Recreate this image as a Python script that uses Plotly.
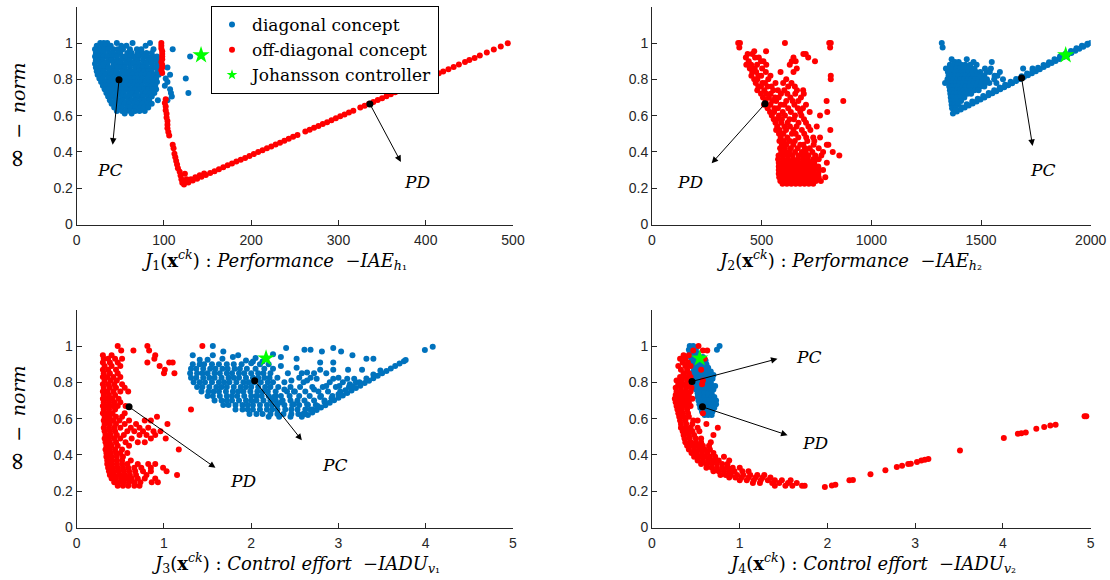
import plotly.graph_objects as go
from plotly.subplots import make_subplots

BLUE = "#0072BD"
RED = "#FF0000"
GREEN = "#00FF00"
TXT = "#262626"

# ---------------- data ----------------
# Panel 1: J1 (IAE_h1) vs infinity-norm.  rows: (norm, [J1 values])
j1_diag_rows = [
    (1.00, [27, 31, 35, 46, 64, 84]),
    (0.985, [23, 29, 33, 39, 51, 57, 79]),
    (0.965, [21, 26, 32, 36, 42, 47, 53, 61, 69, 74, 88, 110]),
    (0.945, [22, 27, 31, 37, 41, 47, 50, 58, 63, 70, 75, 80, 86]),
    (0.925, [21, 25, 31, 35, 41, 46, 52, 56, 62, 66, 71, 77, 81, 87, 92, 130]),
    (0.905, [22, 26, 30, 36, 40, 46, 51, 57, 61, 67, 70, 76, 82, 86, 91, 95]),
    (0.885, [21, 27, 31, 35, 42, 46, 50, 56, 62, 65, 71, 77, 80, 86, 92]),
    (0.865, [22, 26, 32, 36, 41, 47, 51, 55, 61, 67, 72, 76, 81, 87, 90, 96, 104]),
    (0.845, [23, 27, 31, 37, 42, 46, 52, 57, 61, 66, 72, 77, 82, 86, 93]),
    (0.825, [24, 29, 33, 39, 45, 49, 54, 58, 64, 70, 74, 79, 83, 89, 94, 107]),
    (0.805, [26, 30, 36, 41, 46, 50, 56, 62, 66, 71, 75, 81, 87, 91, 102, 125]),
    (0.785, [28, 33, 38, 42, 48, 54, 58, 63, 67, 73, 79, 83, 88, 92, 104]),
    (0.765, [30, 35, 39, 45, 51, 55, 60, 66, 70, 75, 81, 86, 90, 101]),
    (0.745, [32, 36, 42, 47, 52, 57, 63, 67, 72, 78, 82, 87, 91, 107]),
    (0.725, [34, 39, 45, 49, 54, 60, 64, 69, 75, 79, 84, 89, 108, 128]),
    (0.705, [36, 41, 46, 52, 56, 61, 67, 71, 76, 82, 86, 109]),
    (0.685, [38, 44, 48, 53, 59, 63, 68, 74, 78, 83, 93, 104]),
    (0.665, [40, 45, 51, 55, 60, 66, 70, 75, 81, 86]),
    (0.645, [43, 47, 52, 58, 62, 67, 73, 77, 82]),
    (0.625, [46, 52, 56, 61, 67, 72, 78]),
    (0.612, [55, 63]),
]
j1_off_x = [97, 97, 97, 98, 98, 98, 98, 97, 98, 98, 97, 98,
            102, 101, 102, 102, 103, 103, 104, 104, 104, 105, 106,
            110, 111, 112, 113, 114, 115, 116, 118, 119, 120, 121, 124, 126, 123, 128,
            128, 133, 138, 143, 148, 153, 158, 163, 168, 173, 178, 183, 188, 193, 198,
            203, 208, 213, 218, 223, 228, 233, 238, 243, 248, 253,
            262, 267, 272, 277, 282, 287, 292, 297, 302, 307, 312, 317,
            325, 330, 335, 340, 345, 350, 355, 360, 365, 370, 375, 380, 385, 390,
            395, 400, 405, 410, 415, 420, 426, 432, 438, 445, 450, 456, 462, 470,
            478, 486, 494, 131, 136, 141, 146]
j1_off_y = [1.0, 0.985, 0.97, 0.955, 0.94, 0.925, 0.91, 0.895, 0.88, 0.865, 0.85, 0.835,
            0.69, 0.67, 0.65, 0.63, 0.61, 0.59, 0.57, 0.55, 0.53, 0.51, 0.49,
            0.44, 0.42, 0.39, 0.37, 0.35, 0.33, 0.31, 0.29, 0.27, 0.25, 0.23, 0.28, 0.25, 0.22, 0.24,
            0.231, 0.242, 0.252, 0.263, 0.273, 0.284, 0.294, 0.305, 0.315, 0.326, 0.336, 0.347, 0.357, 0.367, 0.378,
            0.388, 0.399, 0.409, 0.420, 0.430, 0.441, 0.451, 0.462, 0.472, 0.483, 0.493,
            0.512, 0.522, 0.533, 0.543, 0.554, 0.564, 0.575, 0.585, 0.596, 0.606, 0.617, 0.627,
            0.644, 0.654, 0.665, 0.675, 0.686, 0.696, 0.707, 0.717, 0.728, 0.738, 0.749, 0.759, 0.770, 0.780,
            0.791, 0.801, 0.812, 0.822, 0.833, 0.843, 0.856, 0.868, 0.881, 0.895, 0.906, 0.918, 0.931, 0.948,
            0.964, 0.981, 0.998, 0.250, 0.260, 0.271, 0.281]

# Panel 2: J2 (IAE_h2)
j2_diag_rows = [
    (1.00, [1321]),
    (0.975, [1325]),
    (0.91, [1366, 1435]),
    (0.895, [1381, 1398, 1466, 1549]),
    (0.88, [1358, 1373, 1392, 1410, 1428, 1451, 1480]),
    (0.86, [1340, 1356, 1371, 1387, 1404, 1419, 1437, 1455, 1470, 1518, 1545, 1692, 1735]),
    (0.84, [1349, 1362, 1378, 1394, 1411, 1425, 1443, 1460, 1478, 1497, 1525, 1540, 1586]),
    (0.82, [1352, 1367, 1384, 1398, 1416, 1431, 1449, 1466, 1483, 1502, 1515, 1562, 1575]),
    (0.80, [1347, 1361, 1376, 1392, 1407, 1423, 1440, 1455, 1472, 1490, 1508, 1527, 1560, 1600]),
    (0.78, [1336, 1353, 1370, 1385, 1401, 1418, 1433, 1450, 1467, 1485, 1501, 1520, 1538, 1570]),
    (0.76, [1355, 1369, 1384, 1398, 1415, 1430, 1447, 1463, 1480, 1497, 1515]),
    (0.74, [1358, 1372, 1388, 1404, 1420, 1436, 1452, 1470, 1489]),
    (0.72, [1360, 1375, 1390, 1406, 1422, 1439, 1455]),
    (0.70, [1362, 1376, 1392, 1407, 1424]),
    (0.68, [1364, 1378, 1394, 1409]),
    (0.66, [1366, 1381, 1395]),
    (0.64, [1368, 1382]),
]
j2_diag_line_x = [1372, 1390, 1408, 1426, 1444, 1462, 1480, 1498, 1516, 1534, 1552, 1570,
                  1588, 1606, 1624, 1642, 1660, 1678, 1696, 1714, 1732, 1750, 1768, 1786,
                  1804, 1822, 1840, 1858, 1876, 1894, 1912, 1930, 1948, 1966, 1984, 2000,
                  1385, 1410, 1435, 1460, 1485, 1510, 1535, 1560, 1585, 1610, 1635, 1660,
                  1685, 1710, 1735, 1760, 1785, 1810, 1835, 1860, 1885, 1910, 1935, 1960, 1985]
j2_diag_line_y = [0.611, 0.622, 0.634, 0.645, 0.656, 0.667, 0.678, 0.689, 0.700, 0.712, 0.723, 0.734,
                  0.745, 0.756, 0.767, 0.778, 0.790, 0.801, 0.812, 0.823, 0.834, 0.845, 0.856, 0.868,
                  0.879, 0.890, 0.901, 0.912, 0.923, 0.934, 0.945, 0.957, 0.968, 0.979, 0.990, 1.000,
                  0.631, 0.646, 0.662, 0.677, 0.693, 0.708, 0.724, 0.739, 0.755, 0.770, 0.786, 0.801,
                  0.817, 0.832, 0.848, 0.863, 0.879, 0.894, 0.910, 0.925, 0.941, 0.956, 0.971, 0.985, 0.996]
j2_off_rows = [
    (1.00, [393, 401, 606, 808, 815]),
    (0.975, [398, 812]),
    (0.955, [520, 466]),
    (0.94, [436, 457, 690, 701]),
    (0.92, [428, 470, 487, 645, 712]),
    (0.90, [441, 497, 508, 637, 655, 743]),
    (0.88, [430, 452, 479, 521, 628]),
    (0.86, [446, 468, 502, 660]),
    (0.84, [457, 475, 519, 586, 645]),
    (0.82, [453, 485, 498, 540, 815]),
    (0.80, [466, 480, 530, 612, 815]),
    (0.78, [473, 503, 515, 563, 598, 636]),
    (0.76, [485, 497, 527, 545, 621, 651]),
    (0.74, [480, 512, 553, 574, 603, 661, 689]),
    (0.72, [497, 521, 541, 588, 617, 653, 692]),
    (0.70, [506, 533, 561, 578, 631, 679]),
    (0.68, [518, 548, 566, 612, 641, 667, 796, 872]),
    (0.66, [511, 540, 587, 603, 649, 702]),
    (0.64, [527, 559, 574, 621, 665, 688]),
    (0.62, [538, 557, 596, 633, 676, 719, 799]),
    (0.60, [546, 579, 606, 652, 681, 766]),
    (0.58, [555, 568, 592, 627, 647, 693]),
    (0.56, [563, 589, 618, 668, 702]),
    (0.54, [571, 604, 629, 659, 713, 751]),
    (0.52, [566, 582, 611, 645, 683, 722, 813]),
    (0.50, [579, 599, 638, 655, 694]),
    (0.48, [587, 617, 667, 703, 735, 766]),
    (0.46, [581, 602, 628, 651, 708, 740]),
    (0.44, [592, 613, 644, 676, 690, 737, 797, 804]),
    (0.42, [584, 606, 633, 664, 697, 719, 760]),
    (0.40, [589, 609, 625, 652, 683, 701, 731, 780, 824]),
    (0.38, [577, 596, 618, 641, 669, 692, 713, 744, 772, 854]),
    (0.36, [575, 598, 620, 643, 665, 688, 710, 735, 760]),
    (0.34, [578, 596, 614, 632, 650, 668, 686, 704, 722, 740, 797]),
    (0.32, [578, 596, 614, 632, 650, 668, 686, 704, 722, 740, 758]),
    (0.30, [578, 596, 614, 632, 650, 668, 686, 704, 722, 740, 762, 780]),
    (0.28, [578, 596, 614, 632, 650, 668, 686, 704, 722, 740, 758]),
    (0.26, [580, 598, 616, 634, 652, 670, 688, 706, 724, 742, 760, 790]),
    (0.24, [585, 603, 621, 639, 657, 675, 693, 711, 729, 747, 770]),
    (0.225, [595, 615, 635, 655, 675, 695, 715, 735]),
]

# Panel 3: J3 (IADU_v1)
j3_diag_rows = [
    (0.90, [1.33, 1.41, 1.46, 1.55, 1.63, 1.72, 1.80, 1.89, 2.10, 2.20]),
    (0.875, [1.31, 1.37, 1.45, 1.53, 1.59, 1.67, 1.73, 1.81, 1.87, 1.95, 2.05, 2.15, 2.25]),
    (0.85, [1.30, 1.38, 1.44, 1.50, 1.58, 1.64, 1.72, 1.78, 1.86, 1.92, 2.00, 2.08, 2.14, 2.22, 2.42, 2.58, 2.72, 2.86]),
    (0.825, [1.31, 1.37, 1.45, 1.52, 1.58, 1.66, 1.74, 1.80, 1.86, 1.94, 2.02, 2.08, 2.15, 2.21, 2.30, 2.55, 2.68, 3.00]),
    (0.80, [1.34, 1.41, 1.47, 1.55, 1.63, 1.69, 1.75, 1.83, 1.91, 1.97, 2.03, 2.11, 2.19, 2.25, 2.38, 2.60, 2.90, 3.05, 3.20]),
    (0.775, [1.38, 1.44, 1.52, 1.60, 1.66, 1.72, 1.80, 1.88, 1.94, 2.00, 2.08, 2.16, 2.22, 2.31, 2.45, 2.56, 2.70, 2.82, 2.97, 3.12]),
    (0.75, [1.43, 1.51, 1.57, 1.63, 1.71, 1.79, 1.85, 1.91, 1.99, 2.07, 2.13, 2.19, 2.28, 2.41, 2.50, 2.62, 2.77, 2.88, 3.02]),
    (0.725, [1.50, 1.56, 1.64, 1.72, 1.78, 1.84, 1.92, 2.00, 2.06, 2.12, 2.20, 2.28, 2.34, 2.44, 2.55, 2.67, 2.80, 2.93]),
    (0.70, [1.58, 1.66, 1.72, 1.78, 1.86, 1.94, 2.00, 2.06, 2.14, 2.22, 2.28, 2.36, 2.45, 2.53, 2.61, 2.72, 2.84]),
    (0.675, [1.68, 1.74, 1.82, 1.90, 1.96, 2.02, 2.10, 2.18, 2.24, 2.30, 2.38, 2.47, 2.55, 2.65, 2.74]),
    (0.65, [1.82, 1.90, 1.96, 2.02, 2.10, 2.18, 2.24, 2.30, 2.39, 2.46, 2.53, 2.62, 2.70]),
    (0.625, [1.98, 2.06, 2.13, 2.22, 2.30, 2.37, 2.46, 2.54, 2.62]),
    (0.61, [2.20, 2.32, 2.45, 2.58]),
]
j3_diag_extra_x = [1.56, 1.68, 1.33, 1.41, 1.56, 1.67, 1.79, 1.94, 2.02, 2.13, 2.34, 2.40, 2.52, 2.61,
                   2.68, 2.81, 2.94, 3.03, 3.16, 3.32, 3.40, 3.99, 4.08, 2.79, 2.94, 3.11, 3.27, 2.94,
                   2.79, 2.64, 2.52, 2.34, 2.46, 2.64, 2.75, 2.94, 3.10, 3.18, 2.86, 3.01, 3.13, 2.72,
                   2.79, 2.49, 2.38, 2.26, 2.34, 2.49, 2.64, 1.85, 2.05, 2.25, 1.50, 2.00]
j3_diag_extra_y = [1.00, 0.97, 0.95, 0.925, 0.95, 0.93, 0.94, 0.92, 0.915, 0.915, 0.94, 0.99, 0.93, 0.98,
                   0.98, 0.97, 0.99, 0.97, 0.95, 0.93, 0.93, 0.978, 0.996, 0.91, 0.91, 0.87, 0.87, 0.87,
                   0.87, 0.855, 0.88, 0.89, 0.81, 0.81, 0.82, 0.82, 0.82, 0.82, 0.78, 0.78, 0.79, 0.76,
                   0.72, 0.75, 0.76, 0.72, 0.69, 0.68, 0.68, 0.95, 0.935, 0.955, 0.925, 0.905]
j3_diag_line_x = [2.65, 2.70, 2.75, 2.80, 2.85, 2.90, 2.95, 3.00, 3.05, 3.10, 3.15, 3.20, 3.25,
                  3.30, 3.35, 3.40, 3.45, 3.50, 3.55, 3.60, 3.65, 3.70, 3.75, 3.77,
                  2.60, 2.68, 2.76, 2.84, 2.92, 3.00, 3.08, 3.16, 3.24, 3.32, 3.40, 3.48]
j3_diag_line_y = [0.620, 0.634, 0.647, 0.661, 0.674, 0.688, 0.701, 0.715, 0.728, 0.742, 0.755, 0.769, 0.782,
                  0.796, 0.809, 0.823, 0.836, 0.850, 0.863, 0.877, 0.890, 0.904, 0.917, 0.923,
                  0.627, 0.649, 0.670, 0.692, 0.713, 0.735, 0.757, 0.778, 0.800, 0.821, 0.843, 0.865]
j3_off_rows = [
    (1.00, [0.47, 0.81, 1.44]),
    (0.975, [0.51, 0.65, 0.83]),
    (0.95, [0.30, 0.40, 0.90]),
    (0.93, [0.31, 0.36, 0.44, 0.52, 0.89]),
    (0.91, [0.30, 0.38, 0.47, 0.81, 1.10, 1.06]),
    (0.89, [0.32, 0.40, 0.50, 0.95]),
    (0.87, [0.30, 0.36, 0.45, 1.01]),
    (0.85, [0.31, 0.38, 0.47, 1.00, 1.12]),
    (0.83, [0.30, 0.35, 0.42, 0.50]),
    (0.81, [0.32, 0.39, 0.46]),
    (0.79, [0.30, 0.36, 0.43, 0.52]),
    (0.77, [0.31, 0.38, 0.45, 0.55]),
    (0.75, [0.30, 0.35, 0.42, 0.50, 0.59]),
    (0.73, [0.31, 0.37, 0.44]),
    (0.71, [0.30, 0.35, 0.41, 0.48]),
    (0.69, [0.31, 0.37, 0.43, 0.50]),
    (0.67, [0.30, 0.35, 0.41, 0.47, 0.56]),
    (0.65, [0.31, 0.37, 0.44, 1.31]),
    (0.63, [0.30, 0.35, 0.41, 0.55]),
    (0.61, [0.32, 0.38, 0.45, 0.52, 0.92]),
    (0.59, [0.31, 0.36, 0.42, 0.49, 0.60, 0.78, 0.85]),
    (0.57, [0.32, 0.38, 0.45, 0.55, 0.68, 1.04]),
    (0.55, [0.31, 0.37, 0.43, 0.50, 0.62, 0.72, 0.82]),
    (0.53, [0.32, 0.38, 0.44, 0.58, 0.66, 0.76, 0.88, 0.96]),
    (0.51, [0.33, 0.39, 0.46, 0.54, 0.72, 0.80, 0.90]),
    (0.49, [0.32, 0.37, 0.43, 0.50, 0.63, 0.85, 1.02]),
    (0.47, [0.33, 0.38, 0.45, 0.56, 0.70, 0.78]),
    (0.45, [0.34, 0.40, 0.47, 0.60]),
    (0.43, [0.33, 0.38, 0.44, 0.52, 1.17]),
    (0.41, [0.34, 0.39, 0.45, 0.50, 0.58]),
    (0.39, [0.34, 0.40, 0.46, 0.53]),
    (0.37, [0.35, 0.40, 0.46, 0.52, 0.62]),
    (0.35, [0.35, 0.40, 0.46, 0.52, 0.58, 0.70, 0.82, 0.90]),
    (0.33, [0.36, 0.41, 0.47, 0.53, 0.59, 0.66, 0.74, 0.85, 0.99]),
    (0.31, [0.37, 0.42, 0.48, 0.54, 0.60, 0.67, 0.76, 0.85, 1.03]),
    (0.29, [0.38, 0.43, 0.49, 0.55, 0.61, 0.68, 0.80, 1.15]),
    (0.27, [0.40, 0.45, 0.51, 0.57, 0.63, 0.70, 0.78, 0.90]),
    (0.25, [0.43, 0.48, 0.54, 0.60, 0.66, 0.73, 0.86, 0.93]),
    (0.23, [0.47, 0.53, 0.59, 0.66, 0.72]),
]

# Panel 4: J4 (IADU_v2)
j4_diag_rows = [
    (1.00, [0.43, 0.47, 0.77]),
    (0.98, [0.42, 0.46, 0.50, 0.74]),
    (0.96, [0.43, 0.47, 0.51]),
    (0.94, [0.44, 0.48, 0.52, 0.58]),
    (0.92, [0.45, 0.49, 0.53, 0.57, 0.61]),
    (0.90, [0.46, 0.50, 0.54, 0.58, 0.62]),
    (0.88, [0.48, 0.52, 0.56, 0.60, 0.64]),
    (0.86, [0.47, 0.51, 0.55, 0.59, 0.63, 0.67]),
    (0.84, [0.46, 0.50, 0.54, 0.58, 0.62, 0.66, 0.70]),
    (0.82, [0.46, 0.50, 0.54, 0.58, 0.62, 0.66, 0.69]),
    (0.80, [0.47, 0.51, 0.55, 0.59, 0.63, 0.67]),
    (0.78, [0.49, 0.53, 0.57, 0.61, 0.65, 0.69, 0.72]),
    (0.76, [0.50, 0.54, 0.58, 0.62, 0.66, 0.70]),
    (0.74, [0.52, 0.56, 0.60, 0.64, 0.68]),
    (0.72, [0.52, 0.56, 0.60, 0.64, 0.68, 0.71]),
    (0.70, [0.53, 0.57, 0.61, 0.65, 0.69, 0.73]),
    (0.68, [0.54, 0.58, 0.62, 0.66, 0.70, 0.73]),
    (0.66, [0.55, 0.59, 0.63, 0.67, 0.71]),
    (0.64, [0.57, 0.61, 0.65, 0.69]),
    (0.62, [0.60, 0.64, 0.68]),
]
j4_off_rows = [
    (1.00, [0.53]),
    (0.975, [0.47, 0.58, 0.63]),
    (0.95, [0.36, 0.42]),
    (0.93, [0.32, 0.38, 0.60]),
    (0.91, [0.35, 0.41]),
    (0.89, [0.30, 0.38, 0.44]),
    (0.87, [0.33, 0.40, 0.56]),
    (0.85, [0.36, 0.42]),
    (0.83, [0.32, 0.38, 0.44]),
    (0.81, [0.28, 0.34, 0.40, 0.58]),
    (0.79, [0.30, 0.36, 0.42, 0.57]),
    (0.77, [0.27, 0.33, 0.39, 0.45]),
    (0.75, [0.28, 0.33, 0.38, 0.44]),
    (0.73, [0.27, 0.32, 0.37, 0.42]),
    (0.71, [0.26, 0.31, 0.36, 0.41, 0.46]),
    (0.69, [0.27, 0.32, 0.37, 0.42]),
    (0.67, [0.28, 0.33, 0.38, 0.44]),
    (0.65, [0.29, 0.34, 0.40]),
    (0.63, [0.30, 0.35, 0.41, 0.58]),
    (0.61, [0.31, 0.36, 0.42]),
    (0.59, [0.32, 0.38, 0.47, 0.52]),
    (0.57, [0.33, 0.39, 0.46, 0.62]),
    (0.55, [0.33, 0.38, 0.44, 0.52, 0.75]),
    (0.53, [0.35, 0.40, 0.46, 0.54]),
    (0.51, [0.36, 0.42, 0.48, 0.70]),
    (0.49, [0.37, 0.43, 0.50, 0.56]),
    (0.47, [0.38, 0.44, 0.50, 0.56, 0.67]),
    (0.45, [0.40, 0.46, 0.52, 0.58, 0.65]),
    (0.43, [0.42, 0.48, 0.54, 0.60, 0.66]),
    (0.41, [0.45, 0.51, 0.57, 0.63, 0.70]),
    (0.39, [0.48, 0.54, 0.60, 0.66, 0.72, 0.82]),
    (0.37, [0.52, 0.58, 0.64, 0.70, 0.76, 0.88]),
    (0.35, [0.56, 0.62, 0.68, 0.74, 0.80, 0.86]),
    (0.33, [0.62, 0.68, 0.74, 0.80, 0.86, 0.92, 1.00]),
    (0.31, [0.70, 0.76, 0.82, 0.88, 0.94, 1.03, 1.10]),
    (0.29, [0.78, 0.84, 0.90, 0.97, 1.04, 1.12, 1.20, 1.28]),
    (0.275, [0.88, 0.95, 1.02, 1.10, 1.18, 1.26, 1.35]),
    (0.26, [1.00, 1.08, 1.16, 1.24, 1.32, 1.40, 1.48, 1.58]),
    (0.245, [1.15, 1.23, 1.37, 1.45, 1.55, 1.65]),
    (0.23, [1.40, 1.52, 1.60, 1.71, 1.74]),
]
j4_off_tail_x = [1.97, 2.05, 2.09, 2.25, 2.29, 2.49, 2.66, 2.79, 2.85, 2.92, 2.95, 3.02, 3.07,
                 3.11, 3.15, 3.51, 4.01, 4.17, 4.21, 4.26, 4.38, 4.47, 4.54, 4.60, 4.93, 4.95]
j4_off_tail_y = [0.223, 0.232, 0.235, 0.260, 0.262, 0.293, 0.315, 0.333, 0.340, 0.350, 0.352, 0.361, 0.370,
                 0.373, 0.378, 0.425, 0.493, 0.517, 0.520, 0.524, 0.545, 0.554, 0.562, 0.567, 0.613, 0.613]

# Johansson controller point in the four objective spaces
joh_j = [142.5, 1886, 2.17, 0.544]
joh_norm = 0.933

# PC / PD marked solutions: (J value, norm) for each panel
pc_pts = [(48.5, 0.797), (1685, 0.807), (2.04, 0.809), (0.456, 0.805)]
pd_pts = [(336, 0.664), (515, 0.665), (0.60, 0.665), (0.575, 0.665)]
# arrow heads and label positions for PC / PD
pc_head = [(41.2, 0.44), (1735, 0.433), (2.58, 0.481), (1.43, 0.93)]
pd_head = [(371.5, 0.344), (272, 0.337), (1.59, 0.329), (1.545, 0.509)]
pc_label = [(38, 0.30), (1780, 0.30), (2.95, 0.343), (1.78, 0.94)]
pd_label = [(389.5, 0.236), (173, 0.235), (1.91, 0.255), (1.86, 0.466)]

x_ranges = [[0, 500], [0, 2000], [0, 5], [0, 5]]
x_ticks = [[0, 100, 200, 300, 400, 500], [0, 500, 1000, 1500, 2000],
           [0, 1, 2, 3, 4, 5], [0, 1, 2, 3, 4, 5]]
y_ticks = [0, 0.2, 0.4, 0.6, 0.8, 1]
y_ticktext = ["0", "0.2", "0.4", "0.6", "0.8", "1"]

x_titles = [
    "<i>J</i><sub>1</sub>(<b>x</b><sup><i>ck</i></sup>) : <i>Performance</i>\u00a0\u00a0\u2212<i>IAE</i><sub><i>h</i>\u2081</sub>",
    "<i>J</i><sub>2</sub>(<b>x</b><sup><i>ck</i></sup>) : <i>Performance</i>\u00a0\u00a0\u2212<i>IAE</i><sub><i>h</i>\u2082</sub>",
    "<i>J</i><sub>3</sub>(<b>x</b><sup><i>ck</i></sup>) : <i>Control\u00a0effort</i>\u00a0\u00a0\u2212<i>IADU</i><sub><i>v</i>\u2081</sub>",
    "<i>J</i><sub>4</sub>(<b>x</b><sup><i>ck</i></sup>) : <i>Control\u00a0effort</i>\u00a0\u00a0\u2212<i>IADU</i><sub><i>v</i>\u2082</sub>",
]
y_title = "<span style=\"font-size:25px\">\u221e</span>\u2002\u2212\u2002<i>norm</i>"


def flatten(rows):
    xs, ys = [], []
    for yv, xl in rows:
        for xv in xl:
            xs.append(xv)
            ys.append(yv)
    return xs, ys


W, H = 1110, 580
SERIF = "DejaVu Serif, serif"
SANS = "Liberation Sans, Arial, sans-serif"

fig = make_subplots(rows=2, cols=2)

d2 = flatten(j2_diag_rows)
d3 = flatten(j3_diag_rows)
o4 = flatten(j4_off_rows)
diag = [flatten(j1_diag_rows),
        (d2[0] + j2_diag_line_x, d2[1] + j2_diag_line_y),
        (d3[0] + j3_diag_extra_x + j3_diag_line_x, d3[1] + j3_diag_extra_y + j3_diag_line_y),
        flatten(j4_diag_rows)]
off = [(j1_off_x, j1_off_y), flatten(j2_off_rows), flatten(j3_off_rows),
       (o4[0] + j4_off_tail_x, o4[1] + j4_off_tail_y)]

pos = [(1, 1), (1, 2), (2, 1), (2, 2)]
MS = 6
for i, (r, c) in enumerate(pos):
    fig.add_trace(go.Scatter(x=diag[i][0], y=diag[i][1], mode="markers",
                             marker=dict(color=BLUE, size=MS, line=dict(width=0)),
                             name="diagonal concept", showlegend=(i == 0)), row=r, col=c)
    fig.add_trace(go.Scatter(x=off[i][0], y=off[i][1], mode="markers",
                             marker=dict(color=RED, size=MS, line=dict(width=0)),
                             name="off-diagonal concept", showlegend=(i == 0)), row=r, col=c)
    fig.add_trace(go.Scatter(x=[joh_j[i]], y=[joh_norm], mode="markers",
                             marker=dict(color=GREEN, size=13, symbol="star", line=dict(width=0)),
                             showlegend=False), row=r, col=c)
    fig.add_trace(go.Scatter(x=[pc_pts[i][0], pd_pts[i][0]], y=[pc_pts[i][1], pd_pts[i][1]],
                             mode="markers", marker=dict(color="black", size=7),
                             showlegend=False), row=r, col=c)

# legend-only entry for the star (small symbol as in the reference legend)
fig.add_trace(go.Scatter(x=[None], y=[None], mode="markers",
                         marker=dict(color=GREEN, size=8, symbol="star"),
                         name="Johansson controller"), row=1, col=1)

xdom = [[76.7 / W, 513 / W], [652 / W, 1090.7 / W]]
ydom = [[1 - 224.5 / H, 1 - 6.7 / H], [1 - 527.5 / H, 1 - 309.8 / H]]

annotations = []
for i, (r, c) in enumerate(pos):
    ax_id = "" if i == 0 else str(i + 1)
    fig.update_xaxes(domain=xdom[c - 1], range=x_ranges[i], tickvals=x_ticks[i], automargin=False,
                     showgrid=False, zeroline=False, showline=True, linecolor=TXT, linewidth=1,
                     ticks="inside", ticklen=5, tickcolor=TXT, tickwidth=1, ticklabelstandoff=3,
                     tickfont=dict(family=SANS, size=14, color=TXT), row=r, col=c)
    fig.update_yaxes(domain=ydom[r - 1], range=[0, 1.2], tickvals=y_ticks, ticktext=y_ticktext,
                     automargin=False,
                     showgrid=False, zeroline=False, showline=True, linecolor=TXT, linewidth=1,
                     ticks="inside", ticklen=5, tickcolor=TXT, tickwidth=1,
                     tickfont=dict(family=SANS, size=14, color=TXT), row=r, col=c)
    xr, yr = "x" + ax_id, "y" + ax_id
    for tail, head in ((pc_pts[i], pc_head[i]), (pd_pts[i], pd_head[i])):
        annotations.append(dict(x=head[0], y=head[1], ax=tail[0], ay=tail[1],
                                xref=xr, yref=yr, axref=xr, ayref=yr, text="",
                                showarrow=True, arrowhead=2, arrowsize=1.3, arrowwidth=1,
                                arrowcolor="black", standoff=0, startstandoff=0))
    for lab, p in (("PC", pc_label[i]), ("PD", pd_label[i])):
        annotations.append(dict(x=p[0], y=p[1], xref=xr, yref=yr, text="<i>%s</i>" % lab,
                                showarrow=False, font=dict(family=SERIF, size=17, color="black")))

# axis titles
xt_pos = [(274, 260), (849, 260), (295.5, 563), (871, 563)]
for i, (px, py) in enumerate(xt_pos):
    annotations.append(dict(x=px / W, y=1 - py / H, xref="paper", yref="paper", text=x_titles[i],
                            showarrow=False, xanchor="center", yanchor="middle",
                            font=dict(family=SERIF, size=18, color="black")))
for py in (116, 419):
    annotations.append(dict(x=17 / W, y=1 - py / H, xref="paper", yref="paper",
                            text=y_title, textangle=-90, showarrow=False,
                            xanchor="center", yanchor="middle",
                            font=dict(family=SERIF, size=19, color="black")))

fig.update_layout(
    width=W, height=H, margin=dict(l=0, r=0, t=0, b=0, autoexpand=False),
    paper_bgcolor="white", plot_bgcolor="white",
    annotations=annotations,
    showlegend=True,
    legend=dict(x=211 / W, y=1 - 6 / H, xanchor="left", yanchor="top",
                bgcolor="white", bordercolor="black", borderwidth=1,
                font=dict(family=SERIF, size=17, color="black"),
                tracegroupgap=0),
)

fig.write_html("out.html")
